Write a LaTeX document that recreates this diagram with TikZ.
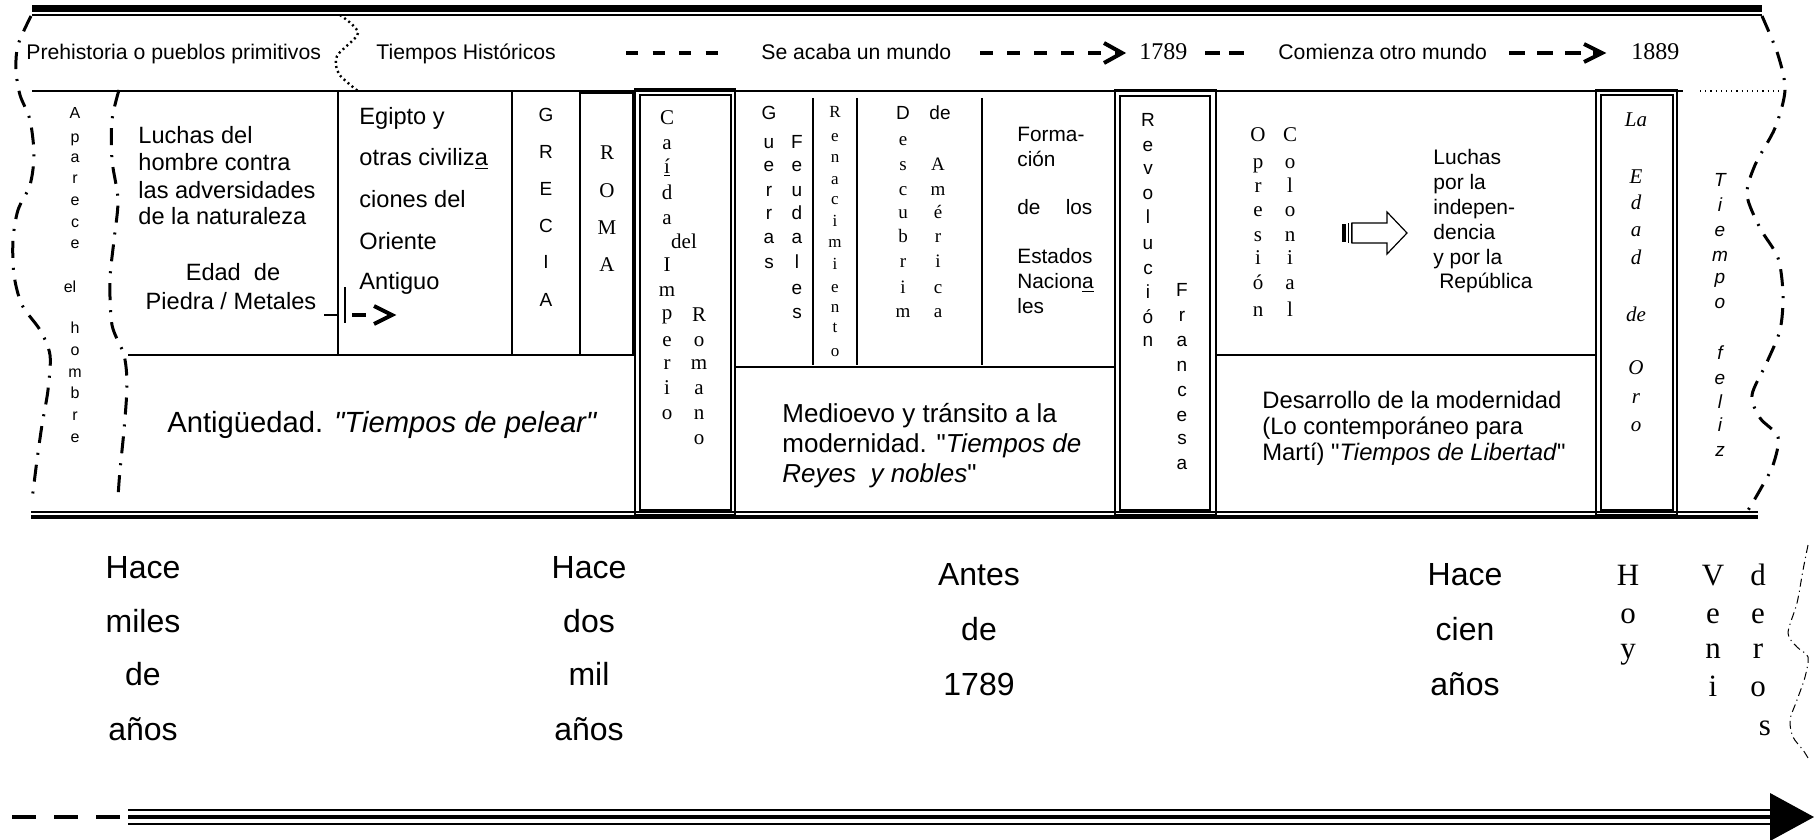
\documentclass[tikz,border=0pt]{standalone}
\usepackage{fontspec}
\setmainfont{Liberation Serif}
\setsansfont{Liberation Sans}
\newfontfamily\ari{Liberation Sans}
\newfontfamily\tnr{Liberation Serif}
\newcommand\fz[1]{\fontsize{#1}{#1}\selectfont}
\newcommand\stk[4]{\foreach \ltr/\yy [count=\i] in {#4} \node[#3] (#1-\i) at (#2,\yy) {\ltr};}
\begin{document}
\begin{tikzpicture}[x=0.5pt,y=-0.5pt,
  sA/.style={inner sep=0pt,text depth=0pt,text height=#1*0.64pt,font=\ari\fz{#1}},
  rA/.style={inner sep=0pt,text depth=0pt,text height=#1*0.58pt,font=\tnr\fz{#1}},
  sI/.style={inner sep=0pt,text depth=0pt,text height=#1*0.64pt,font=\ari\itshape\fz{#1}},
  rI/.style={inner sep=0pt,text depth=0pt,text height=#1*0.58pt,font=\tnr\itshape\fz{#1}},
  rule/.style={line width=1pt},
  dbo/.style={line width=1.4pt},
  dbi/.style={line width=0.9pt},
  dd/.style={line width=1.5pt,dash pattern=on 8.5pt off 5pt on 1pt off 5pt},
  ddthin/.style={line width=0.5pt,dash pattern=on 4pt off 2pt on 0.6pt off 2pt},
  hdash/.style={line width=2pt},
  chev/.style={line width=2pt,line join=miter}]
\useasboundingbox (0,0) rectangle (1814,840);
% frame lines
\draw[line width=3.7pt] (32,8.5) -- (1762,8.5);
\draw[line width=0.8pt] (32,15) -- (1762,15);
\draw[rule] (32,91) -- (1683,91);
\draw[line width=0.6pt,dotted] (1700,91) -- (1783,91);
\draw[line width=0.8pt] (31,512) -- (1758,512);
\draw[line width=2.2pt] (31,517) -- (1758,517);
% header
\node[sA=10.6,anchor=west] (prehist) at (26,53) {Prehistoria o pueblos primitivos};
\draw[line width=1.2pt,dash pattern=on 1pt off 1.6pt] plot[smooth] coordinates {(340,15) (358,33) (337,56) (339,74) (358,91)};
\node[sA=10.6,anchor=west] (historicos) at (376,53) {Tiempos Históricos};
\coordinate (h1a) at (626,53); \coordinate (h1b) at (720,53);
\draw[hdash,dash pattern=on 6pt off 7.25pt] (h1a) -- (h1b);
\node[sA=10.6,anchor=west] (acaba) at (761,53) {Se acaba un mundo};
\coordinate (h2a) at (980,53); \coordinate (h2b) at (1119,53);
\draw[hdash,dash pattern=on 6.5pt off 7pt] (h2a) -- (h2b);
\draw[chev] (1104,43) -- (1122,53) -- (1104,63);
\node[rA=12,anchor=west] (y1789) at (1139,53) {1789};
\coordinate (h3a) at (1205,53); \coordinate (h3b) at (1247,53);
\draw[hdash,dash pattern=on 7.5pt off 4.5pt] (h3a) -- (h3b);
\node[sA=10.6,anchor=west] (comienza) at (1278,53) {Comienza otro mundo};
\coordinate (h4a) at (1509,53); \coordinate (h4b) at (1599,53);
\draw[hdash,dash pattern=on 8pt off 6pt] (h4a) -- (h4b);
\draw[chev] (1584,44) -- (1602,53) -- (1584,62);
\node[rA=12,anchor=west] (y1889) at (1631,53) {1889};
% dash-dot boundaries
\draw[dd] plot[smooth] coordinates {(31,16) (18,45) (16,70) (20,95) (30,120) (34,155) (30,185) (18,210) (13,240) (14,275) (22,305) (40,330) (50,355) (48,390) (42,425) (37,460) (32,500)};
\draw[dd] plot[smooth] coordinates {(119,90) (112,120) (112,160) (118,200) (114,240) (110,280) (112,325) (124,355) (127,385) (124,430) (120,470) (118,497)};
\draw[dd] plot[smooth] coordinates {(1762,16) (1778,55) (1785,90) (1775,128) (1755,165) (1747,195) (1760,228) (1778,258) (1783,295) (1780,330) (1767,362) (1752,395) (1760,418) (1778,437) (1773,465) (1760,490) (1747,512)};
% Antiguedad
\draw[rule] (128,355) -- (580,355);
\draw[rule] (338,91) -- (338,355);
\draw[rule] (512,91) -- (512,355);
\draw[line width=1.2pt] (580,93) rectangle (633,355);
\stk{ap}{75}{sA=8}{A/113,p/137,a/157,r/178,e/200,c/222,e/243,h/328,o/350,m/372,b/393,r/415,e/437}
\node[sA=8] (apel) at (70,287) {el};
\foreach \s/\yy [count=\i] in {Luchas del/136,hombre contra/163,las adversidades/191,de la naturaleza/217}
  \node[sA=11.8,anchor=west] (luchas-\i) at (138,\yy) {\s};
\node[sA=11.8] (edad1) at (233,273) {Edad~ de};
\node[sA=11.8] (edad2) at (231,302) {Piedra / Metales};
\coordinate (ea) at (324,315); \coordinate (eb) at (338,315);
\draw[line width=1.4pt] (ea) -- (eb);
\draw[line width=0.8pt] (345,287) -- (345,323);
\draw[line width=1.8pt] (352,315) -- (366,315);
\draw[chev] (374,306) -- (392,315) -- (374,324);
\foreach \s/\yy [count=\i] in {Egipto y/117,otras civiliz\underline{a}/158,ciones del/200,Oriente/242,Antiguo/282}
  \node[sA=11.8,anchor=west] (egipto-\i) at (359,\yy) {\s};
\stk{grecia}{546}{sA=9.5}{G/115,R/152,E/189,C/226,I/262,A/300}
\stk{roma}{607}{rA=10.5}{R/153,O/191,M/228,A/265}
\node[sA=14.6,anchor=west] (antig) at (167,423) {Antigüedad. \textit{"Tiempos de pelear"}};
% Caida
\draw[dbo] (635,89) rectangle (735,515);
\draw[dbi] (640,95) rectangle (731,510);
\stk{caida}{667}{rA=10.5}{C/118,a/143,\underline{í}/167,d/193,a/218,I/265,m/290,p/313,e/340,r/363,i/388,o/413}
\node[rA=10.5] (caidadel) at (684,242) {del};
\stk{romano}{699}{rA=10.5}{R/315,o/340,m/363,a/388,n/413,o/438}
% Medioevo
\draw[rule] (813,98) -- (813,365);
\draw[rule] (857,98) -- (857,365);
\draw[rule] (982,98) -- (982,365);
\draw[rule] (735,367) -- (1115,367);
\stk{guerras}{769}{sA=9.5}{G/113,u/142,e/165,r/190,r/213,a/237,s/262}
\stk{feudales}{797}{sA=9.5}{F/142,e/165,u/190,d/213,a/237,l/262,e/288,s/312}
\stk{renac}{835}{rA=8.5}{R/113,e/137,n/158,a/180,c/200,i/222,m/243,i/265,e/288,n/308,t/328,o/352}
\node[sA=9.5] (descD) at (903,113) {D};
\stk{descub}{903}{rA=9.5}{e/140,s/165,c/190,u/213,b/237,r/262,i/288,m/312}
\node[sA=9.5] (descde) at (940,113) {de};
\stk{america}{938}{rA=9.5}{A/165,m/190,é/213,r/237,i/262,c/288,a/312}
\foreach \s/\yy [count=\i] in {Forma-/135,ción/160,\makebox[37.5pt][l]{de\hfill los}/208,Estados/257,Nacion\underline{a}/282,les/307}
  \node[sA=10.4,anchor=west] (formacion-\i) at (1017,\yy) {\s};
\node[sA=13,anchor=west] (medio-1) at (782,414) {Medioevo y tránsito a la};
\node[sA=13,anchor=west] (medio-2) at (782,444) {modernidad. "\textit{Tiempos de}};
\node[sA=13,anchor=west] (medio-3) at (782,474) {\textit{Reyes~ y nobles}"};
% Revolucion
\draw[dbo] (1115,90) rectangle (1216,515);
\draw[dbi] (1120,96) rectangle (1210,510);
\stk{revol}{1148}{sA=9.5}{R/120,e/145,v/168,o/193,l/217,u/243,c/268,i/292,ó/317,n/340}
\stk{franc}{1182}{sA=9.5}{F/290,r/315,a/340,n/365,c/390,e/415,s/438,a/463}
% Modernidad
\draw[rule] (1216,355) -- (1596,355);
\stk{opres}{1258}{rA=10.5}{O/135,p/162,r/186,e/210,s/235,i/258,ó/283,n/310}
\stk{colon}{1290}{rA=10.5}{C/135,o/162,l/186,o/210,n/235,i/258,a/283,l/310}
\fill (1342,224) rectangle (1346,242);
\fill (1347.5,223) rectangle (1349,243);
\fill (1350.5,223) rectangle (1352,243);
\draw[line width=0.6pt,fill=white] (1352,223) -- (1387,223) -- (1387,212) -- (1407,233) -- (1387,254) -- (1387,243) -- (1352,243) -- cycle;
\foreach \s/\yy [count=\i] in {Luchas/158,por la/183,indepen-/208,dencia/233,y por la/258,~República/282}
  \node[sA=10.5,anchor=west] (lindep-\i) at (1433,\yy) {\s};
\node[sA=11.9,anchor=west] (desa-1) at (1262,401) {Desarrollo de la modernidad};
\node[sA=11.9,anchor=west] (desa-2) at (1262,427) {(Lo contemporáneo para};
\node[sA=11.9,anchor=west] (desa-3) at (1262,453) {Martí) "\textit{Tiempos de Libertad}"};
% Edad de Oro
\draw[dbo] (1596,90) rectangle (1677,515);
\draw[dbi] (1601,95) rectangle (1673,510);
\stk{oro}{1636}{rI=10.5}{La/120,E/177,d/203,a/230,d/258,de/315,O/368,r/397,o/425}
\stk{feliz}{1720}{sI=9.5}{T/180,i/205,e/230,m/255,p/277,o/302,f/353,e/378,l/402,i/425,z/450}
% bottom labels
\stk{hmiles}{143}{sA=16}{Hace/568,miles/622,de/675,años/730}
\stk{hdos}{589}{sA=16}{Hace/568,dos/622,mil/675,años/730}
\stk{antes}{979}{sA=16}{Antes/575,de/630,1789/685}
\stk{hcien}{1465}{sA=16}{Hace/575,cien/630,años/685}
\stk{hoy}{1628}{rA=15.5}{H/577,o/615,y/650}
\stk{veni}{1713}{rA=15.5}{V/577,e/615,n/650,i/688}
\stk{deros}{1758}{rA=15.5}{d/577,e/615,r/650,o/688}
\node[rA=15.5] (deros-s) at (1765,727) {s};
\draw[ddthin] plot[smooth] coordinates {(1808,545) (1803,570) (1797,603) (1788,633) (1797,647) (1808,657) (1805,677) (1797,700) (1790,720) (1793,737) (1803,750) (1808,758)};
% time arrow
\coordinate (ta) at (12,817); \coordinate (tb) at (120,817);
\draw[line width=2.2pt,dash pattern=on 12pt off 9pt] (ta) -- (tb);
\draw[line width=1pt] (128,810) -- (1772,810);
\draw[line width=2.1pt] (128,817) -- (1772,817);
\draw[line width=1pt] (128,824) -- (1772,824);
\fill (1770,793) -- (1814,817) -- (1770,841) -- cycle;
\end{tikzpicture}
\end{document}
